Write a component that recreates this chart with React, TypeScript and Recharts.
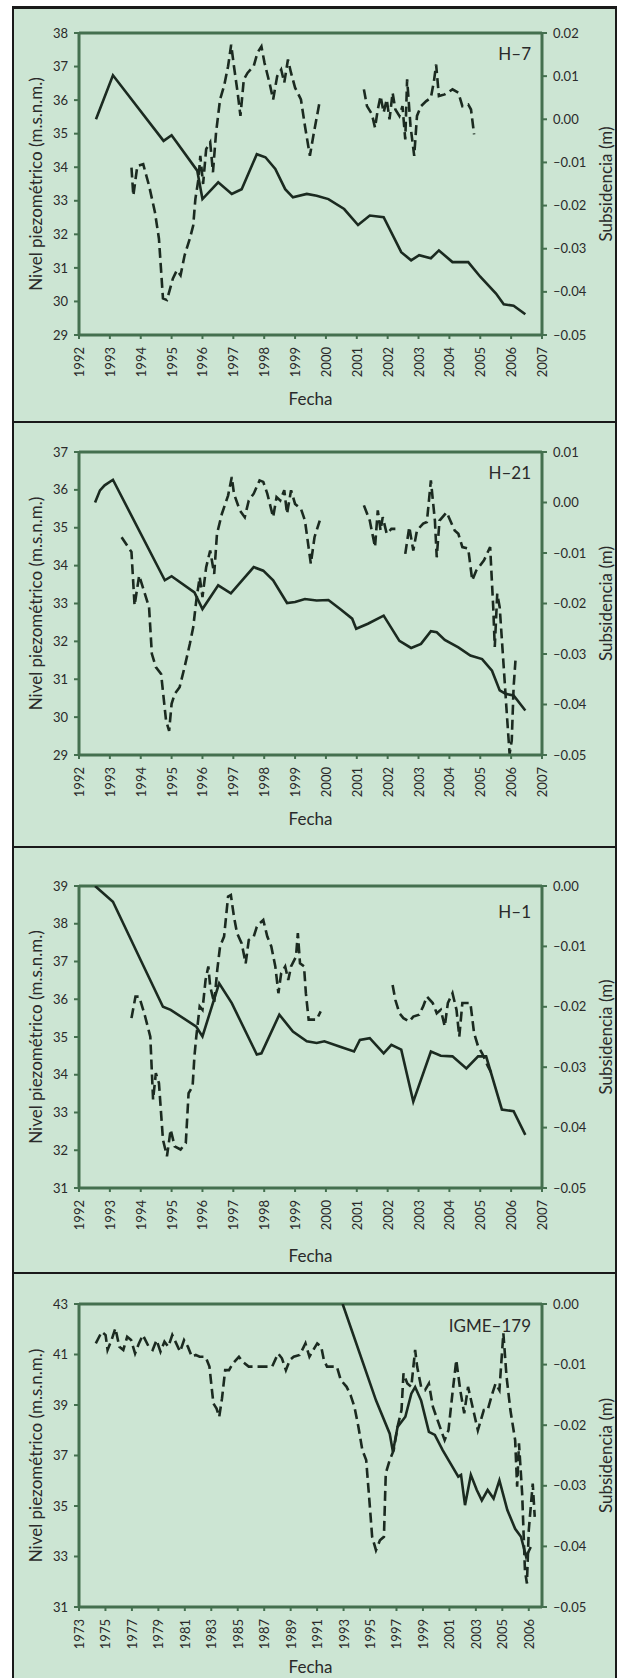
import React from 'react';
import { LineChart, Line, XAxis, YAxis, ReferenceLine } from 'recharts';

const BG = '#cce5d3';
const INK = '#1b2a20';
const AXIS = '#44704f';
const TEXT = '#2a2a2a';
const FRAME = '#1a1a1a';
const FONT = 'Lato, "Open Sans", sans-serif';

// shared x ticks
const yearTicks = [1992, 1993, 1994, 1995, 1996, 1997, 1998, 1999, 2000, 2001, 2002, 2003, 2004, 2005, 2006, 2007];
const igmeYearTicks = [1973, 1975, 1977, 1979, 1981, 1983, 1985, 1987, 1989, 1991, 1993, 1995, 1997, 1999, 2001, 2003, 2005, 2007];
const igmeYearLabels = ['1973', '1975', '1977', '1979', '1981', '1983', '1985', '1987', '1989', '1991', '1993', '1995', '1997', '1999', '2001', '2003', '2005', '2006'];

// ---- H-7
const h7NivelTicks = [29, 30, 31, 32, 33, 34, 35, 36, 37, 38];
const h7SubTicks = [-0.05, -0.04, -0.03, -0.02, -0.01, 0, 0.01, 0.02];
const h7SubYears = [1992.55, 1993.1, 1994.74, 1995.0, 1995.83, 1996.0, 1996.51, 1996.95, 1997.27, 1997.76, 1998.04, 1998.36, 1998.68, 1998.93, 1999.38, 1999.7, 2000.08, 2000.59, 2001.04, 2001.42, 2001.87, 2002.44, 2002.76, 2003.02, 2003.4, 2003.66, 2004.1, 2004.61, 2005.0, 2005.51, 2005.76, 2006.08, 2006.46];
const h7Sub = [0.0, 0.0102, -0.005, -0.0037, -0.0119, -0.0185, -0.0146, -0.0173, -0.0162, -0.0081, -0.0088, -0.0115, -0.0162, -0.0181, -0.0173, -0.0177, -0.0185, -0.0208, -0.0245, -0.0223, -0.0227, -0.0308, -0.0327, -0.0315, -0.0322, -0.0304, -0.0331, -0.0331, -0.0365, -0.0404, -0.0429, -0.0432, -0.0452];
const h7NivelYears = [1993.7, 1993.76, 1993.89, 1994.08, 1994.27, 1994.46, 1994.59, 1994.72, 1994.85, 1995.04, 1995.17, 1995.29, 1995.42, 1995.59, 1995.7, 1995.77, 1995.87, 1995.93, 1996.02, 1996.12, 1996.25, 1996.34, 1996.44, 1996.57, 1996.7, 1996.83, 1996.93, 1997.02, 1997.14, 1997.23, 1997.34, 1997.46, 1997.66, 1997.78, 1997.91, 1998.01, 1998.17, 1998.29, 1998.42, 1998.55, 1998.65, 1998.77, 1998.87, 1999.0, 1999.19, 1999.32, 1999.48, 1999.61, 1999.8,
  2000.5,
  2001.23, 2001.33, 2001.49, 2001.59, 2001.68, 2001.77, 2001.87, 2001.97, 2002.06, 2002.16, 2002.25, 2002.38, 2002.48, 2002.57, 2002.63, 2002.74, 2002.86, 2002.95, 2003.08, 2003.25, 2003.4, 2003.5, 2003.57, 2003.66, 2003.85, 2004.1, 2004.29, 2004.42, 2004.61, 2004.7, 2004.8];
const h7Nivel = [33.99, 33.15, 34.04, 34.09, 33.45, 32.66, 31.87, 30.09, 30.04, 30.68, 30.93, 30.78, 31.37, 31.87, 32.26, 33.05, 33.65, 34.34, 33.5, 34.54, 34.74, 33.85, 35.03, 36.02, 36.42, 37.01, 37.65, 37.01, 36.22, 35.53, 36.62, 36.81, 37.01, 37.41, 37.6, 37.11, 36.52, 36.02, 36.71, 36.91, 36.52, 37.21, 36.81, 36.37, 36.02, 35.23, 34.34, 35.03, 35.97,
  null,
  36.32, 35.82, 35.58, 35.18, 35.72, 36.12, 35.63, 36.02, 35.43, 36.22, 35.72, 35.53, 35.82, 34.83, 36.62, 35.23, 34.34, 35.53, 35.82, 35.97, 36.07, 36.57, 37.06, 36.12, 36.17, 36.32, 36.22, 35.82, 35.87, 35.72, 34.98];

// ---- H-21
const h21NivelTicks = [29, 30, 31, 32, 33, 34, 35, 36, 37];
const h21SubTicks = [-0.05, -0.04, -0.03, -0.02, -0.01, 0, 0.01];
const h21SubYears = [1992.52, 1992.68, 1992.83, 1993.1, 1994.78, 1995.0, 1995.74, 1996.0, 1996.51, 1996.92, 1997.66, 1997.97, 1998.29, 1998.74, 1999.0, 1999.32, 1999.7, 2000.08, 2000.46, 2000.85, 2000.98, 2001.36, 2001.87, 2002.38, 2002.76, 2003.08, 2003.4, 2003.59, 2003.85, 2004.29, 2004.68, 2005.06, 2005.38, 2005.63, 2005.83, 2006.08, 2006.46];
const h21Sub = [0.0, 0.0024, 0.0034, 0.0045, -0.0154, -0.0146, -0.0178, -0.0211, -0.0164, -0.018, -0.0128, -0.0135, -0.0154, -0.0199, -0.0197, -0.0191, -0.0194, -0.0193, -0.0211, -0.023, -0.025, -0.024, -0.0224, -0.0274, -0.0288, -0.028, -0.0255, -0.0257, -0.0272, -0.0287, -0.0303, -0.031, -0.0333, -0.0372, -0.0379, -0.0382, -0.0412];
const h21NivelYears = [1993.38, 1993.7, 1993.8, 1993.95, 1994.27, 1994.36, 1994.49, 1994.66, 1994.82, 1994.92, 1995.0, 1995.1, 1995.26, 1995.42, 1995.59, 1995.7, 1995.8, 1995.91, 1996.0, 1996.12, 1996.25, 1996.38, 1996.47, 1996.63, 1996.83, 1996.95, 1997.02, 1997.21, 1997.37, 1997.5, 1997.66, 1997.85, 1997.97, 1998.1, 1998.29, 1998.4, 1998.52, 1998.65, 1998.74, 1998.87, 1999.0, 1999.19, 1999.32, 1999.51, 1999.63, 1999.8,
  2000.5,
  2001.23, 2001.42, 2001.59, 2001.68, 2001.77, 2001.84, 2001.97, 2002.12, 2002.25,
  2002.4,
  2002.57, 2002.7, 2002.83, 2002.95, 2003.15, 2003.27, 2003.4, 2003.53, 2003.59, 2003.68, 2003.91, 2004.17, 2004.29, 2004.42, 2004.61, 2004.74, 2004.87, 2005.12, 2005.32, 2005.42, 2005.47, 2005.55, 2005.63, 2005.76, 2005.86, 2005.95, 2006.02, 2006.08, 2006.14];
const h21Nivel = [34.75, 34.36, 32.95, 33.74, 32.9, 31.67, 31.32, 31.14, 29.91, 29.64, 30.35, 30.61, 30.79, 31.32, 31.93, 32.37, 33.08, 33.7, 33.17, 33.96, 34.4, 33.78, 34.84, 35.37, 35.85, 36.34, 35.9, 35.46, 35.28, 35.72, 35.9, 36.25, 36.21, 35.9, 35.28, 35.81, 35.72, 35.99, 35.37, 35.99, 35.63, 35.5, 35.19, 34.05, 34.75, 35.19,
  null,
  35.59, 35.19, 34.49, 35.46, 34.93, 35.28, 34.84, 34.97, 34.97,
  null,
  34.31, 35.02, 34.4, 34.93, 35.11, 35.15, 36.25, 35.19, 34.22, 35.19, 35.41, 34.93, 34.84, 34.49, 34.45, 33.61, 33.87, 34.14, 34.49, 32.9, 31.85, 33.26, 32.9, 31.32, 30.09, 29.03, 29.38, 30.79, 31.49];

// ---- H-1
const h1NivelTicks = [31, 32, 33, 34, 35, 36, 37, 38, 39];
const h1SubTicks = [-0.05, -0.04, -0.03, -0.02, -0.01, 0];
const h1SubYears = [1992.52, 1993.1, 1994.02, 1994.72, 1994.97, 1995.8, 1996.0, 1996.54, 1996.95, 1997.76, 1997.91, 1998.49, 1998.93, 1999.38, 1999.7, 1999.95, 2000.46, 2000.91, 2001.1, 2001.42, 2001.87, 2002.12, 2002.44, 2002.83, 2003.4, 2003.72, 2004.1, 2004.55, 2004.93, 2005.19, 2005.7, 2006.08, 2006.46];
const h1Sub = [0.0, -0.0026, -0.0125, -0.02, -0.0205, -0.0233, -0.0249, -0.0161, -0.0194, -0.0279, -0.0277, -0.0213, -0.0241, -0.0257, -0.026, -0.0257, -0.0266, -0.0274, -0.0255, -0.0252, -0.0277, -0.0263, -0.0271, -0.0357, -0.0274, -0.0281, -0.0282, -0.0302, -0.0282, -0.0282, -0.037, -0.0373, -0.0412];
const h1NivelYears = [1993.7, 1993.83, 1993.95, 1994.08, 1994.14, 1994.31, 1994.4, 1994.49, 1994.59, 1994.72, 1994.85, 1994.97, 1995.1, 1995.29, 1995.46, 1995.55, 1995.68, 1995.74, 1995.8, 1995.91, 1996.0, 1996.1, 1996.19, 1996.25, 1996.38, 1996.48, 1996.57, 1996.7, 1996.83, 1996.92, 1997.02, 1997.12, 1997.27, 1997.4, 1997.5, 1997.66, 1997.76, 1997.85, 1997.97, 1998.1, 1998.23, 1998.36, 1998.46, 1998.55, 1998.68, 1998.78, 1998.87, 1999.03, 1999.09, 1999.16, 1999.29, 1999.35, 1999.44, 1999.57, 1999.7, 1999.83,
  2001.0,
  2002.16, 2002.25, 2002.38, 2002.51, 2002.7, 2002.83, 2003.02, 2003.15, 2003.27, 2003.46, 2003.59, 2003.72, 2003.85, 2003.95, 2004.1, 2004.23, 2004.32, 2004.42, 2004.55, 2004.68, 2004.8, 2004.93, 2005.06, 2005.25, 2005.42];
const h1Nivel = [35.5, 36.07, 36.07, 35.72, 35.55, 35.01, 33.34, 34.04, 33.78, 32.28, 31.84, 32.55, 32.1, 32.02, 32.19, 33.51, 33.69, 34.49, 35.01, 35.81, 35.72, 36.51, 36.87, 36.34, 35.9, 36.78, 37.4, 37.66, 38.72, 38.76, 38.19, 37.75, 37.48, 36.95, 37.57, 37.66, 37.92, 38.01, 38.1, 37.66, 37.4, 36.87, 36.16, 36.69, 36.87, 36.51, 36.87, 37.13, 37.75, 36.95, 36.87, 36.16, 35.46, 35.46, 35.46, 35.68,
  null,
  36.38, 35.98, 35.63, 35.5, 35.41, 35.54, 35.59, 35.81, 36.07, 35.9, 35.63, 35.72, 35.28, 35.9, 36.16, 35.72, 35.01, 35.9, 35.9, 35.9, 35.1, 34.75, 34.57, 34.22, 33.96];

// ---- IGME-179
const igmeNivelTicks = [31, 33, 35, 37, 39, 41, 43];
const igmeSubTicks = [-0.05, -0.04, -0.03, -0.02, -0.01, 0];
const igmeSubYears = [1992.93, 1995.45, 1996.49, 1996.73, 1997.08, 1997.67, 1998.12, 1998.41, 1998.86, 1999.45, 1999.9, 2000.49, 2001.08, 2001.67, 2001.88, 2002.18, 2002.62, 2003.07, 2003.45, 2003.89, 2004.34, 2004.78, 2005.38, 2005.97, 2006.41, 2006.8, 2007.15];
const igmeSub = [0.0, -0.0159, -0.0214, -0.0244, -0.0203, -0.0186, -0.0148, -0.0137, -0.0159, -0.0211, -0.0216, -0.0241, -0.0263, -0.0285, -0.0282, -0.0332, -0.0282, -0.0307, -0.0324, -0.0307, -0.0321, -0.0291, -0.034, -0.0371, -0.0384, -0.0417, -0.0401];
const igmeNivelYears = [1974.27, 1974.72, 1975.01, 1975.16, 1975.46, 1975.75, 1976.05, 1976.35, 1976.64, 1976.94, 1977.24, 1977.53, 1977.83, 1978.27, 1978.57, 1978.86, 1979.16, 1979.46, 1979.75, 1980.05, 1980.35, 1980.64, 1980.94, 1981.23, 1981.53, 1981.83, 1982.12, 1982.57, 1982.86, 1983.16, 1983.4, 1983.6, 1983.81, 1984.05, 1984.34, 1984.64, 1985.09, 1985.38, 1985.83, 1986.42, 1987.01, 1987.6, 1988.05, 1988.34, 1988.64, 1988.94, 1989.23, 1989.68, 1990.12, 1990.42, 1990.71, 1991.01, 1991.31, 1991.51, 1991.75, 1992.19, 1992.49, 1992.79, 1993.23, 1993.53, 1993.82, 1994.12, 1994.42, 1994.71, 1994.95, 1995.16, 1995.45, 1995.75, 1996.05, 1996.19, 1996.49, 1996.79, 1997.08, 1997.38, 1997.53, 1997.82, 1998.12, 1998.41, 1998.56, 1998.86, 1999.16, 1999.45, 1999.75, 2000.19, 2000.64, 2000.93, 2001.23, 2001.52, 2001.82, 2002.12, 2002.41, 2002.86, 2003.15, 2003.6, 2003.89, 2004.25, 2004.49, 2004.78, 2005.08, 2005.32, 2005.61, 2005.97, 2006.12, 2006.26, 2006.5, 2006.71, 2006.86, 2007.0, 2007.3, 2007.45];
const igmeNivel = [41.44, 41.9, 41.77, 41.18, 41.57, 42.04, 41.31, 41.18, 41.7, 41.57, 41.04, 41.44, 41.77, 41.31, 41.18, 41.57, 41.11, 41.51, 41.31, 41.77, 41.44, 41.11, 41.57, 41.31, 40.91, 40.98, 40.91, 40.91, 40.52, 39.06, 38.86, 38.53, 39.26, 40.38, 40.38, 40.65, 40.91, 40.71, 40.52, 40.52, 40.52, 40.52, 41.04, 40.85, 40.38, 40.78, 40.91, 40.98, 41.44, 40.91, 41.18, 41.44, 41.31, 40.78, 40.52, 40.52, 40.52, 39.99, 39.72, 39.39, 38.93, 38.14, 37.21, 36.82, 35.23, 33.78, 33.25, 33.64, 33.78, 36.29, 36.82, 37.21, 38.14, 38.8, 40.25, 39.85, 39.72, 41.18, 40.52, 39.72, 39.59, 39.85, 38.93, 38.27, 37.61, 38.0, 39.46, 40.78, 39.59, 38.67, 39.72, 38.67, 38.0, 38.8, 38.8, 39.46, 39.85, 39.59, 41.84, 40.12, 38.8, 37.61, 35.76, 37.48, 35.49, 32.45, 31.93, 34.04, 35.89, 34.57];

type Pt = { x: number; y: number | null };
const zip = (xs: number[], ys: (number | null)[]): Pt[] => xs.map((x, i) => ({ x, y: ys[i] }));

const fmtSub = (v: number) => {
  if (Math.abs(v) < 1e-9) return '0.00';
  return v < 0 ? '\u2013' + Math.abs(v).toFixed(2) : v.toFixed(2);
};

function SideTitle(props: any) {
  const { viewBox, text, cx } = props;
  const cy = viewBox.y + viewBox.height / 2;
  return (
    <text x={cx} y={cy} transform={`rotate(-90 ${cx} ${cy})`} textAnchor="middle" dominantBaseline="central"
      fill={TEXT} fontSize={17} fontFamily={FONT}>{text}</text>
  );
}

function FechaTitle(props: any) {
  const { viewBox, off } = props;
  return (
    <text x={viewBox.x + viewBox.width / 2} y={viewBox.y + off} textAnchor="middle" dominantBaseline="central"
      fill={TEXT} fontSize={17} fontFamily={FONT}>Fecha</text>
  );
}

function NameTag(props: any) {
  const { viewBox, name, dy } = props;
  return (
    <text x={viewBox.x + viewBox.width - 11} y={viewBox.y + dy} textAnchor="end" dominantBaseline="central"
      fill={TEXT} fontSize={17} fontFamily={FONT}>{name}</text>
  );
}

function YearTick(props: any) {
  const { x, y, payload, ticks, labels } = props;
  const i = ticks.indexOf(payload.value);
  const txt = labels && i >= 0 ? labels[i] : String(payload.value);
  return (
    <text transform={`translate(${x},${y}) rotate(-90)`} textAnchor="end" dominantBaseline="central"
      fill={TEXT} fontSize={13} fontFamily={FONT}>{txt}</text>
  );
}

interface PanelProps {
  name: string;
  top: number;
  height: number;
  marginTop: number;
  xAxisHeight: number;
  fechaOff: number;
  nameDy: number;
  xDomain: [number, number];
  xTicks: number[];
  xLabels?: string[];
  leftTicks: number[];
  rightTicks: number[];
  sub: Pt[];
  nivel: Pt[];
}

function Panel(p: PanelProps) {
  const leftDomain: [number, number] = [p.leftTicks[0], p.leftTicks[p.leftTicks.length - 1]];
  const rightDomain: [number, number] = [p.rightTicks[0], p.rightTicks[p.rightTicks.length - 1]];
  return (
    <div style={{ position: 'absolute', left: 0, top: p.top }}>
      <LineChart width={619} height={p.height} margin={{ top: p.marginTop, right: 0, bottom: 0, left: 0 }}>
        <XAxis dataKey="x" type="number" domain={p.xDomain} ticks={p.xTicks} interval={0} allowDataOverflow
          height={p.xAxisHeight} tickSize={4} tickMargin={8}
          axisLine={{ stroke: AXIS, strokeWidth: 3 }} tickLine={{ stroke: AXIS, strokeWidth: 2 }}
          tick={(t: any) => <YearTick {...t} ticks={p.xTicks} labels={p.xLabels} />}
          label={<FechaTitle off={p.fechaOff} />} />
        <YAxis yAxisId="left" domain={leftDomain} ticks={p.leftTicks} interval={0} allowDataOverflow width={79}
          tickSize={5} tickMargin={6} axisLine={{ stroke: AXIS, strokeWidth: 3 }} tickLine={{ stroke: AXIS, strokeWidth: 2 }}
          tick={{ fill: TEXT, fontSize: 13, fontFamily: FONT }}
          label={<SideTitle text="Nivel piezométrico (m.s.n.m.)" cx={35} />} />
        <YAxis yAxisId="right" orientation="right" domain={rightDomain} ticks={p.rightTicks} interval={0} allowDataOverflow width={77}
          tickSize={5} tickMargin={6} tickFormatter={fmtSub} axisLine={{ stroke: AXIS, strokeWidth: 3 }} tickLine={{ stroke: AXIS, strokeWidth: 2 }}
          tick={{ fill: TEXT, fontSize: 13, fontFamily: FONT }}
          label={<SideTitle text="Subsidencia (m)" cx={605} />} />
        <ReferenceLine yAxisId="left" y={leftDomain[1]} stroke={AXIS} strokeWidth={3}
          label={<NameTag name={p.name} dy={p.nameDy} />} />
        <Line yAxisId="right" data={p.sub} dataKey="y" type="linear" stroke={INK} strokeWidth={2.6}
          dot={false} activeDot={false} isAnimationActive={false} />
        <Line yAxisId="left" data={p.nivel} dataKey="y" type="linear" stroke={INK} strokeWidth={2.6}
          strokeDasharray="10 5" dot={false} activeDot={false} connectNulls={false} isAnimationActive={false} />
      </LineChart>
    </div>
  );
}

export default function App() {
  return (
    <div style={{ position: 'absolute', left: 0, top: 0, width: 619, height: 1678, overflow: 'hidden', background: '#fff' }}>
      <div style={{ position: 'absolute', left: 12, top: 6, width: 605, height: 1680, boxSizing: 'border-box',
        borderTop: `3px solid ${FRAME}`, borderLeft: `2px solid ${FRAME}`, borderRight: `2px solid ${FRAME}`, background: BG }} />
      {[421, 846, 1272].map((y) => (
        <div key={y} style={{ position: 'absolute', left: 12, top: y, width: 605, height: 2, background: FRAME }} />
      ))}
      <Panel name="H–7" top={0} height={422} marginTop={33} xAxisHeight={87} fechaOff={63} nameDy={20}
        xDomain={[1992, 2007]} xTicks={yearTicks} leftTicks={h7NivelTicks} rightTicks={h7SubTicks}
        sub={zip(h7SubYears, h7Sub)} nivel={zip(h7NivelYears, h7Nivel)} />
      <Panel name="H–21" top={422} height={425} marginTop={30} xAxisHeight={92} fechaOff={63} nameDy={20}
        xDomain={[1992, 2007]} xTicks={yearTicks} leftTicks={h21NivelTicks} rightTicks={h21SubTicks}
        sub={zip(h21SubYears, h21Sub)} nivel={zip(h21NivelYears, h21Nivel)} />
      <Panel name="H–1" top={847} height={426} marginTop={39} xAxisHeight={85} fechaOff={67} nameDy={25}
        xDomain={[1992, 2007]} xTicks={yearTicks} leftTicks={h1NivelTicks} rightTicks={h1SubTicks}
        sub={zip(h1SubYears, h1Sub)} nivel={zip(h1NivelYears, h1Nivel)} />
      <Panel name="IGME–179" top={1273} height={405} marginTop={31} xAxisHeight={71} fechaOff={59} nameDy={21}
        xDomain={[1973, 2008]} xTicks={igmeYearTicks} xLabels={igmeYearLabels} leftTicks={igmeNivelTicks} rightTicks={igmeSubTicks}
        sub={zip(igmeSubYears, igmeSub)} nivel={zip(igmeNivelYears, igmeNivel)} />
    </div>
  );
}
